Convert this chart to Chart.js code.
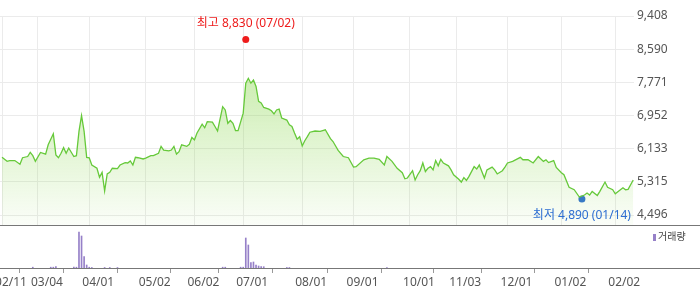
<!DOCTYPE html>
<html>
<head>
<meta charset="utf-8">
<script src="https://cdn.jsdelivr.net/npm/chart.js@4.4.1/dist/chart.umd.min.js"></script>
<style>
  body { margin: 0; background: #fff; }
  canvas { display: block; }
</style>
</head>
<body>
<canvas id="price" width="700" height="225"></canvas>
<canvas id="volume" width="700" height="64"></canvas>
<script>
// price line (trading-day index from 02/11), volume spikes, axis ticks
const priceDays = [0,2,3,5,7,8,10,11,12,13,
  15,17,18,20,21,22,23,24,25,26,
  28,29,30,31,32,33,34,35,37,38,
  39,40,41,42,43,45,46,48,49,50,
  51,52,53,55,56,58,59,61,62,63,
  65,66,67,68,69,70,72,73,74,75,
  76,78,79,80,82,83,84,86,87,88,
  89,90,91,92,94,95,96,97,98,99,
  100,101,102,104,105,106,107,108,109,111,
  112,113,114,115,116,117,118,119,120,122,
  124,126,128,129,131,133,135,137,138,141,
  143,145,147,149,150,152,154,156,157,158,
  160,161,162,163,164,165,166,167,168,169,
  170,171,172,174,175,176,178,179,180,181,
  182,184,185,186,188,189,191,192,193,195,
  196,197,199,202,203,205,207,209,211,212,
  213,215,216,218,219,221,223,225,227,228,
  229,230,232,233,235,236,238,239,241,242,
  243,244,246];
const priceCloses = [5920,5820,5840,5840,5750,5910,5940,6040,5960,5820,
  6040,6000,6230,6500,5980,5910,6020,6160,6020,6150,
  5940,5960,6560,6950,6560,5920,5910,5730,5650,5430,
  5550,5090,5510,5550,5650,5640,5730,5790,5780,5830,
  5730,5920,5910,5880,5900,5960,5960,6020,6190,6100,
  6080,6100,6190,6000,6060,6230,6190,6240,6410,6350,
  6520,6740,6650,6800,6790,6680,6570,7170,7090,6760,
  6830,6760,6580,6580,7010,7750,7870,7750,7830,7670,
  7300,7260,7150,7110,7070,6990,7090,7110,6890,6840,
  6720,6680,6520,6370,6430,6200,6330,6430,6540,6570,
  6560,6600,6380,6310,6090,5940,5910,5680,5690,5860,
  5900,5900,5870,5730,5940,5820,5650,5540,5390,5410,
  5590,5360,5490,5590,5780,5570,5650,5690,5610,5840,
  5710,5870,5780,5710,5610,5490,5380,5310,5420,5350,
  5450,5690,5630,5730,5410,5610,5680,5610,5510,5590,
  5680,5780,5820,5920,5860,5860,5780,5940,5820,5860,
  5790,5840,5670,5540,5490,5180,5120,4940,4990,5040,
  4990,5080,4980,5080,5310,5180,5120,5020,5120,5170,
  5120,5130,5360];

const volDays   = [12,19,20,21,28,29,30,31,32,33,34,35,40,42,45,86,87,93,94,95,96,97,98,99,100,101,102,111,112,150];
const volValues = [8,8,8,15,8,8,360,320,113,30,8,5,5,5,5,8,8,8,8,300,230,53,60,30,20,13,13,5,5,4];

const tickDays   = [0,14,34,56,75,94,117,137,159,177,197,218,239];
const tickLabels = ['02/11','03/04','04/01','05/02','06/02','07/01','08/01','09/01','10/01','11/03','12/01','01/02','02/02'];
const yTicks     = [9408,8590,7771,6952,6133,5315,4496];

const highDay = 95, highValue = 8830, highDate = '07/02';
const lowDay = 226, lowValue = 4890, lowDate = '01/14';

const FONT = '"Noto Sans", "Noto Sans CJK KR", sans-serif';
const LINE_COLOR = '#66c93a';
const VOL_COLOR = '#9680c8';
const HIGH_COLOR = '#ee1c1c';
const LOW_COLOR = '#2d6ed2';
const GRID = '#ebebeb';
const AXIS_W = 66;
const X_MIN = -0.78, X_MAX = 246.3;

Chart.defaults.font.family = FONT;
Chart.defaults.font.size = 12;
Chart.defaults.color = '#555';

const fmt = v => v.toLocaleString('en-US');
const fixRight = s => { s.width = AXIS_W; s.paddingTop = 0; s.paddingBottom = 0; };
const dayTicks = s => { s.ticks = tickDays.map(v => ({ value: v })); };

// 최고/최저 captions, placed off the marker dots
const markerLabels = {
  id: 'markerLabels',
  afterDatasetsDraw(chart) {
    const { ctx } = chart;
    const x = chart.scales.x, y = chart.scales.y;
    ctx.save();
    ctx.font = '12px ' + FONT;
    ctx.textAlign = 'center';
    ctx.textBaseline = 'alphabetic';
    ctx.fillStyle = HIGH_COLOR;
    ctx.fillText(`최고 ${fmt(highValue)} (${highDate})`, x.getPixelForValue(highDay), y.getPixelForValue(highValue) - 12);
    ctx.fillStyle = LOW_COLOR;
    ctx.fillText(`최저 ${fmt(lowValue)} (${lowDate})`, x.getPixelForValue(lowDay), y.getPixelForValue(lowValue) + 20);
    ctx.restore();
  }
};

new Chart(document.getElementById('price'), {
  type: 'line',
  data: {
    datasets: [
      {
        data: priceDays.map((d, i) => ({ x: d, y: priceCloses[i] })),
        borderColor: LINE_COLOR,
        borderWidth: 1.3,
        pointRadius: 0,
        tension: 0,
        fill: 'start',
        backgroundColor: c => {
          const ca = c.chart.chartArea;
          if (!ca) return 'rgba(140,215,80,0.3)';
          const g = c.chart.ctx.createLinearGradient(0, ca.top, 0, ca.bottom);
          g.addColorStop(0, 'rgba(140,215,80,0.6)');
          g.addColorStop(1, 'rgba(140,215,80,0.04)');
          return g;
        },
      },
      {
        type: 'scatter',
        data: [{ x: highDay, y: highValue }],
        pointRadius: 3.5, pointBorderWidth: 0,
        pointBackgroundColor: HIGH_COLOR,
      },
      {
        type: 'scatter',
        data: [{ x: lowDay, y: lowValue }],
        pointRadius: 3.5, pointBorderWidth: 0,
        pointBackgroundColor: LOW_COLOR,
      },
    ]
  },
  options: {
    responsive: false,
    animation: false,
    devicePixelRatio: 1,
    layout: { autoPadding: false, padding: { top: 16, left: 0, right: 0, bottom: 0 } },
    plugins: { legend: { display: false }, tooltip: { enabled: false } },
    scales: {
      x: {
        type: 'linear', min: X_MIN, max: X_MAX,
        afterBuildTicks: dayTicks,
        grid: { color: GRID, drawTicks: false },
        border: { display: false },
        ticks: { display: false },
        afterFit: s => { s.height = 0; s.paddingLeft = 0; s.paddingRight = 0; },
      },
      y: {
        position: 'right', min: 4250, max: 9408,
        afterBuildTicks: s => { s.ticks = yTicks.map(v => ({ value: v })); },
        grid: { color: GRID, drawTicks: false },
        border: { display: false },
        ticks: { padding: 3, color: '#555', callback: v => fmt(v) },
        afterFit: fixRight,
      }
    }
  },
  plugins: [markerLabels]
});

const panelFrame = {
  id: 'panelFrame',
  afterDraw(chart) {
    const { ctx, chartArea: ca } = chart;
    ctx.save();
    ctx.strokeStyle = '#777';
    ctx.lineWidth = 1;
    ctx.beginPath();
    ctx.moveTo(0, Math.round(ca.top) - 0.5);
    ctx.lineTo(chart.width, Math.round(ca.top) - 0.5);
    ctx.moveTo(0, Math.round(ca.bottom) + 0.5);
    ctx.lineTo(chart.width, Math.round(ca.bottom) + 0.5);
    ctx.stroke();
    // legend
    ctx.fillStyle = VOL_COLOR;
    ctx.fillRect(ca.right + 19, ca.top + 8, 3, 7);
    ctx.fillStyle = '#444';
    ctx.font = '10px ' + FONT;
    ctx.textAlign = 'left';
    ctx.textBaseline = 'middle';
    ctx.fillText('거래량', ca.right + 24, ca.top + 11.5);
    ctx.restore();
  }
};

new Chart(document.getElementById('volume'), {
  type: 'bar',
  data: {
    datasets: [{
      data: volDays.map((d, i) => ({ x: d, y: volValues[i] })),
      backgroundColor: VOL_COLOR,
      barThickness: 1,
    }]
  },
  options: {
    responsive: false,
    animation: false,
    devicePixelRatio: 1,
    layout: { autoPadding: false, padding: { top: 1, left: 0, right: 0, bottom: 0 } },
    plugins: { legend: { display: false }, tooltip: { enabled: false } },
    scales: {
      x: {
        type: 'linear', min: X_MIN, max: X_MAX, offset: false,
        afterBuildTicks: dayTicks,
        grid: { drawOnChartArea: false, drawTicks: true, tickLength: 5, color: '#999' },
        border: { display: false },
        ticks: { autoSkip: false, maxRotation: 0, minRotation: 0, padding: 2, labelOffset: 9, color: '#555',
                 callback: (v, i) => tickLabels[i] },
        afterFit: s => { s.height = 21; s.paddingLeft = 0; s.paddingRight = 0; },
      },
      y: {
        position: 'right', min: 0, max: 420,
        ticks: { display: false },
        grid: { display: false },
        border: { display: false },
        afterFit: fixRight,
      }
    }
  },
  plugins: [panelFrame]
});
</script>
</body>
</html>
